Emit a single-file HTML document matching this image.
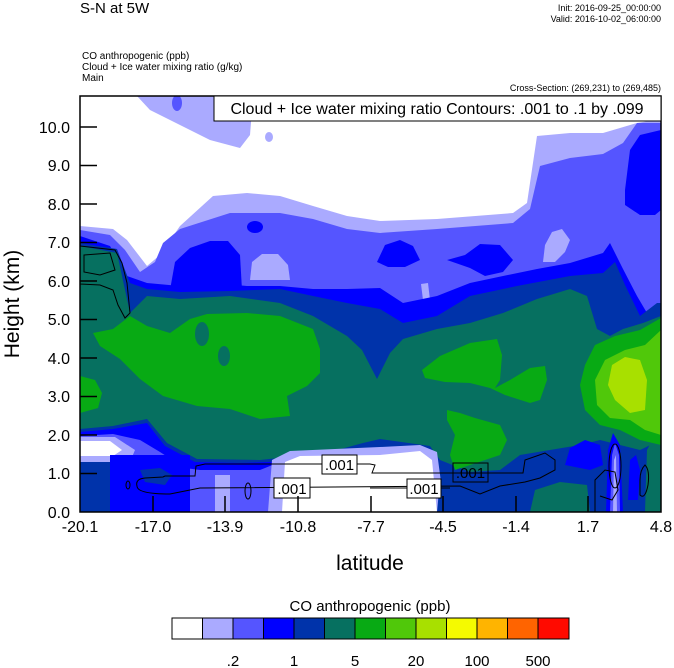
<!DOCTYPE html>
<html><head><meta charset="utf-8"><style>
html,body{margin:0;padding:0;background:#fff;}
svg{display:block;font-family:"Liberation Sans",sans-serif;}
</style></head><body>
<svg width="674" height="668" viewBox="0 0 674 668" xmlns="http://www.w3.org/2000/svg">
<rect width="674" height="668" fill="#fff"/>
<defs><clipPath id="c"><rect x="80" y="96" width="581" height="416"/></clipPath></defs>
<g clip-path="url(#c)">
<polygon fill="#aaaaff" points="80,226 113,229 127,240 147,266 160,255 180,226 213,196 247,193 280,196 313,206 347,216 380,221 437,219 513,213 527,203 537,136 570,133 603,133 637,123 661,119 661,512 80,512"/>
<polygon fill="#aaaaff" points="137,96 150,110 180,125 210,140 240,148 250,135 252,110 245,96"/>
<ellipse cx="177" cy="103" rx="5" ry="8" fill="#5555ff"/>
<ellipse cx="269" cy="137" rx="4" ry="5" fill="#aaaaff"/>
<polygon fill="#5555ff" points="80,230 110,235 125,250 140,272 155,262 163,243 180,229 230,213 280,213 313,219 347,229 380,233 437,229 513,223 530,209 540,166 570,158 603,154 623,143 637,123 661,123 661,512 80,512"/>
<polygon fill="#aaaaff" points="250,280 252,262 262,254 278,254 288,265 290,280"/>
<polygon fill="#aaaaff" points="543,262 545,245 552,232 562,229 570,240 565,252 555,262"/>
<polygon fill="#aaaaff" points="421,284 428,283 430,300 423,300"/>
<polygon fill="#0000ff" points="80,236 110,246 127,276 147,283 180,286 213,283 247,286 280,286 313,289 347,289 380,288 403,303 437,296 470,283 503,276 537,269 570,263 603,253 610,243 623,269 637,296 647,313 661,303 661,512 80,512"/>
<polygon fill="#0000ff" points="170,290 175,262 190,248 210,241 228,241 240,255 242,290"/>
<ellipse cx="255" cy="227" rx="8" ry="6" fill="#0000ff"/>
<polygon fill="#0000ff" points="377,262 385,245 400,240 413,246 420,260 405,267 388,267"/>
<polygon fill="#0000ff" points="447,260 465,255 480,244 500,245 513,260 503,272 485,276 470,268"/>
<polygon fill="#0000ff" points="661,130 640,135 630,150 625,190 625,205 640,215 655,215 661,210"/>
<polygon fill="#0033aa" points="80,243 117,249 130,283 147,289 180,292 230,291 280,289 313,296 347,303 380,309 403,323 437,316 470,296 517,286 570,276 603,273 615,262 625,285 640,316 657,303 661,303 661,512 80,512"/>
<!-- bottom left bands (under teal) -->
<polygon fill="#0000ff" points="80,432 113,429 147,423 165,446 195,462 240,463 270,462 300,459 300,512 80,512"/>
<polygon fill="#5555ff" points="80,436 113,434 140,440 160,452 185,468 200,470 215,470 260,470 280,462 300,512 80,512"/>
<polygon fill="#aaaaff" points="80,437 115,437 135,450 130,462 80,462"/>
<polygon fill="#ffffff" points="80,441 110,441 122,450 113,456 80,456"/>
<rect x="80" y="462" width="30" height="50" fill="#0033aa"/>
<rect x="110" y="455" width="80" height="57" fill="#0000ff"/>
<polygon fill="#0033aa" points="140,470 160,468 172,475 165,485 145,482"/>
<rect x="215" y="475" width="15" height="37" fill="#aaaaff"/>
<!-- teal -->
<polygon fill="#067060" points="80,246 117,253 130,313 147,296 180,299 230,296 280,303 313,316 347,336 362,350 377,379 390,353 403,339 437,329 470,323 503,313 537,299 570,289 587,296 597,329 610,336 623,329 643,323 661,316 661,440 640,450 620,445 600,440 580,445 550,450 520,455 500,470 470,472 440,460 430,446 380,439 363,443 330,452 297,456 260,460 197,459 167,443 147,419 113,426 80,429"/>
<polygon fill="#aaaaff" points="268,512 272,460 290,451 380,447 420,445 437,452 445,512"/>
<polygon fill="#ffffff" points="282,512 285,462 300,456 380,455 420,451 432,460 437,512"/>
<polygon fill="#0033aa" points="437,512 440,480 460,475 500,472 520,460 560,452 600,445 640,452 661,445 661,512"/>
<polygon fill="#067060" points="530,512 535,490 560,482 587,485 590,512"/>
<polygon fill="#0000ff" points="565,465 570,448 585,440 600,445 603,465 590,470"/>
<polygon fill="#0000ff" points="606,512 608,450 613,433 620,445 623,512"/>
<polygon fill="#5555ff" points="610,512 612,455 615,443 619,455 620,512"/>
<polygon fill="#aaaaff" points="613,512 614,460 616,455 617,512"/>
<polygon fill="#0000ff" points="628,500 630,460 636,455 640,470 638,500"/>
<polygon fill="#067060" points="645,512 647,450 655,435 661,430 661,512"/>
<polygon fill="#08aa14" points="93,333 113,329 130,316 147,326 170,333 190,319 207,314 247,313 280,316 313,329 320,349 320,373 307,386 287,396 290,416 260,419 230,409 197,406 163,396 140,379 120,359 100,346"/>
<ellipse cx="202" cy="334" rx="7" ry="12" fill="#067060"/>
<ellipse cx="224" cy="356" rx="6" ry="10" fill="#067060"/>
<polygon fill="#08aa14" points="80,376 95,380 102,393 98,408 80,413"/>
<polygon fill="#08aa14" points="422,370 440,356 470,343 497,339 502,355 500,380 495,388 510,380 530,368 545,366 547,380 540,400 530,403 505,395 490,388 470,383 445,382 425,378"/>
<polygon fill="#08aa14" points="447,410 460,413 475,418 500,425 507,440 500,455 470,465 455,470 450,455 455,435 447,420"/>
<polygon fill="#08aa14" points="661,318 640,330 615,336 595,345 585,365 580,385 585,410 600,425 620,430 640,440 661,445"/>
<polygon fill="#50c80a" points="661,330 645,345 625,350 605,360 595,380 597,405 610,418 630,420 645,430 661,435"/>
<polygon fill="#a8e000" points="612,365 625,357 640,360 647,380 645,410 630,413 615,400 608,385"/>
<g fill="none" stroke="#000" stroke-width="1">
<polygon points="80,246 115,250 122,263 127,283 130,313 125,318 118,305 113,290 100,285 80,284"/>
<polygon points="84,255 110,253 115,270 100,275 84,272"/>
<path d="M137,486 Q135,479 145,478 L163,477 L165,476 L195,476 L196,466 L205,464 L370,464 L375,465 L372,473 L523,473 L525,460 L545,453 L555,460 L555,470 L540,478 L525,482 L500,486 L480,494 L460,486 L200,488 L170,494 Q137,494 137,486 Z"/>
<path d="M370,488 L450,488"/>
<path d="M595,512 L595,480 L605,470 L615,472 L618,490 L612,500 L600,496"/>
<ellipse cx="615" cy="466" rx="6" ry="22"/>
<path d="M640,480 Q640,470 645,465 Q650,470 648,485 Q645,500 640,495 Z"/>
<ellipse cx="128" cy="485" rx="2" ry="4"/>
<ellipse cx="248" cy="491" rx="3" ry="8"/>
</g>
</g>
<rect x="80" y="96" width="581" height="416" fill="none" stroke="#000" stroke-width="1.5"/>
<g font-size="15" fill="#000">
<rect x="322" y="455" width="35" height="19" fill="#fff" stroke="#000"/><text x="339.5" y="470" text-anchor="middle">.001</text>
<rect x="274" y="478" width="36" height="20" fill="#fff" stroke="#000"/><text x="292" y="494" text-anchor="middle">.001</text>
<rect x="453" y="463" width="35" height="19" fill="none" stroke="#000"/><text x="470.5" y="478" text-anchor="middle">.001</text>
<rect x="407" y="479" width="34" height="19" fill="#fff" stroke="#000"/><text x="424" y="494" text-anchor="middle">.001</text>
</g>
<rect x="214" y="96" width="447" height="25" fill="#fff" stroke="#000"/>
<text x="437" y="114" font-size="16" text-anchor="middle">Cloud + Ice water mixing ratio Contours: .001 to .1 by .099</text>
<g stroke="#000" stroke-width="1.5">
<line x1="80" x2="97" y1="473.5" y2="473.5"/><line x1="80" x2="97" y1="435" y2="435"/><line x1="80" x2="97" y1="396.5" y2="396.5"/><line x1="80" x2="97" y1="358" y2="358"/><line x1="80" x2="97" y1="319.5" y2="319.5"/><line x1="80" x2="97" y1="281" y2="281"/><line x1="80" x2="97" y1="242.5" y2="242.5"/><line x1="80" x2="97" y1="204" y2="204"/><line x1="80" x2="97" y1="165.5" y2="165.5"/><line x1="80" x2="97" y1="127" y2="127"/>
<line x1="153" x2="153" y1="512" y2="496"/><line x1="225" x2="225" y1="512" y2="496"/><line x1="298" x2="298" y1="512" y2="496"/><line x1="371" x2="371" y1="512" y2="496"/><line x1="443" x2="443" y1="512" y2="496"/><line x1="516" x2="516" y1="512" y2="496"/><line x1="588" x2="588" y1="512" y2="496"/>
</g>
<g font-size="16" text-anchor="end">
<text x="70" y="518">0.0</text><text x="70" y="479">1.0</text><text x="70" y="441">2.0</text><text x="70" y="402">3.0</text><text x="70" y="364">4.0</text><text x="70" y="325">5.0</text><text x="70" y="287">6.0</text><text x="70" y="248">7.0</text><text x="70" y="210">8.0</text><text x="70" y="171">9.0</text><text x="70" y="133">10.0</text>
</g>
<g font-size="16" text-anchor="middle">
<text x="80" y="532">-20.1</text><text x="153" y="532">-17.0</text><text x="225" y="532">-13.9</text><text x="298" y="532">-10.8</text><text x="371" y="532">-7.7</text><text x="443" y="532">-4.5</text><text x="516" y="532">-1.4</text><text x="588" y="532">1.7</text><text x="661" y="532">4.8</text>
</g>
<text x="370" y="570" font-size="21" text-anchor="middle">latitude</text>
<text transform="translate(19,304) rotate(-90)" font-size="21" text-anchor="middle">Height (km)</text>
<text x="80" y="13" font-size="15">S-N at 5W</text>
<text x="661" y="11" font-size="9" text-anchor="end">Init: 2016-09-25_00:00:00</text>
<text x="661" y="22" font-size="9" text-anchor="end">Valid: 2016-10-02_06:00:00</text>
<text x="82" y="59" font-size="10">CO anthropogenic   (ppb)</text>
<text x="82" y="70" font-size="10">Cloud + Ice water mixing ratio   (g/kg)</text>
<text x="82" y="81" font-size="10">Main</text>
<text x="661" y="91" font-size="9" text-anchor="end">Cross-Section: (269,231) to (269,485)</text>
<text x="370" y="611" font-size="15" text-anchor="middle">CO anthropogenic  (ppb)</text>
<g stroke="#000" stroke-width="1">
<rect x="172" y="618" width="30.5" height="21" fill="#fff"/>
<rect x="202.5" y="618" width="30.5" height="21" fill="#aaaaff"/>
<rect x="233" y="618" width="30.5" height="21" fill="#5555ff"/>
<rect x="263.5" y="618" width="30.5" height="21" fill="#0000ff"/>
<rect x="294" y="618" width="30.5" height="21" fill="#0033aa"/>
<rect x="324.5" y="618" width="30.5" height="21" fill="#067060"/>
<rect x="355" y="618" width="30.5" height="21" fill="#08aa14"/>
<rect x="385.5" y="618" width="30.5" height="21" fill="#50c80a"/>
<rect x="416" y="618" width="30.5" height="21" fill="#a8e000"/>
<rect x="446.5" y="618" width="30.5" height="21" fill="#f5fa00"/>
<rect x="477" y="618" width="30.5" height="21" fill="#ffb400"/>
<rect x="507.5" y="618" width="30.5" height="21" fill="#ff6400"/>
<rect x="538" y="618" width="31" height="21" fill="#ff0a00"/>
</g>
<g font-size="15" text-anchor="middle">
<text x="233" y="666">.2</text><text x="294" y="666">1</text><text x="355" y="666">5</text><text x="416" y="666">20</text><text x="477" y="666">100</text><text x="538" y="666">500</text>
</g>
</svg>
</body></html>
